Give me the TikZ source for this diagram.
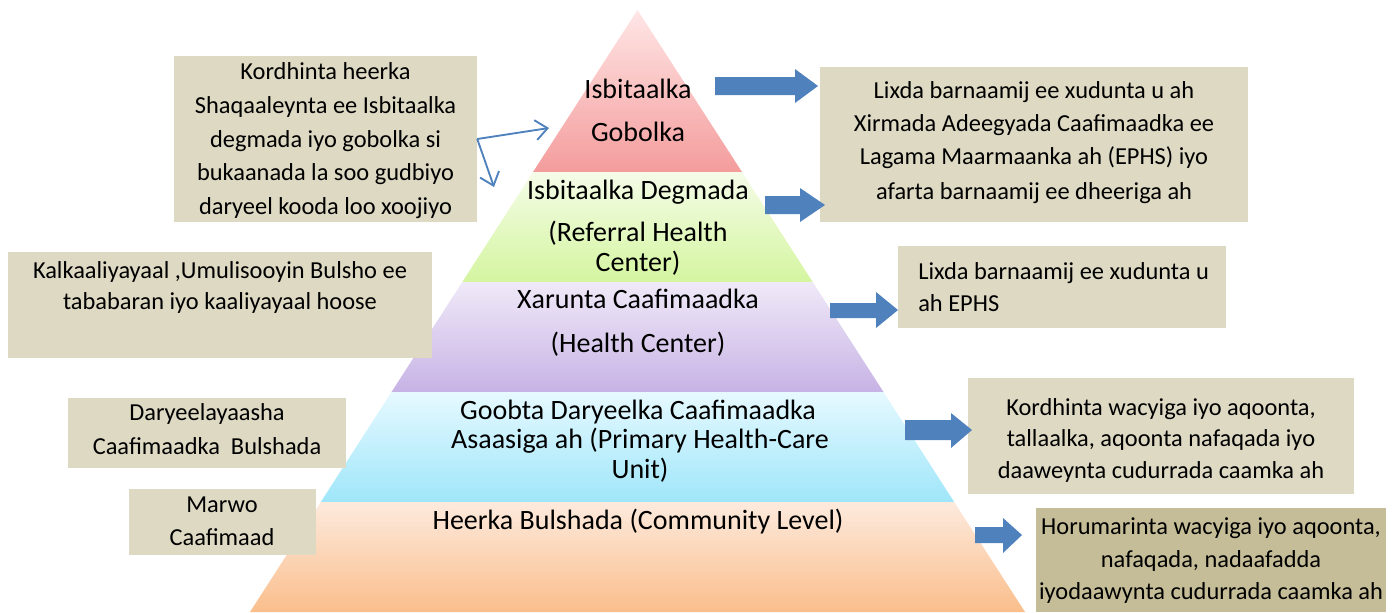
\documentclass[tikz,border=0pt]{standalone}
\usepackage{fontspec}
\setmainfont{Carlito}
\usetikzlibrary{arrows.meta,fit}
\definecolor{boxtan}{HTML}{DDD9C3}
\definecolor{boxdark}{HTML}{C4BD97}
\definecolor{arrowblue}{HTML}{4F81BD}
\definecolor{pinkT}{HTML}{FFE6E6}\definecolor{pinkB}{HTML}{F49C9C}
\definecolor{greenT}{HTML}{F5FCE8}\definecolor{greenB}{HTML}{D4F5A0}
\definecolor{purpT}{HTML}{F0E9F8}\definecolor{purpB}{HTML}{C7B3E5}
\definecolor{blueT}{HTML}{E6F9FF}\definecolor{blueB}{HTML}{9FE6FA}
\definecolor{oranT}{HTML}{FDEADD}\definecolor{oranB}{HTML}{FABE8C}
\tikzset{
  box/.style={fill=boxtan, inner sep=0pt, draw=none},
  stxt/.style={font=\fontsize{18.3}{22}\selectfont, inner sep=0pt, text height=0.644em, text depth=0pt, yshift=-2.5pt},
  ptxt/.style={font=\fontsize{21}{25}\selectfont, inner sep=0pt, text height=0.644em, text depth=0pt, yshift=-3pt},
  blockarrow/.style={fill=arrowblue, draw=none},
  thinarrow/.style={draw=arrowblue, line width=1.4pt, -{Straight Barb[length=9pt,width=15pt]}}
}
\begin{document}
\begin{tikzpicture}[x=0.75pt,y=-0.75pt]
\useasboundingbox (0,0) rectangle (1394,612);
% pyramid layers
\shade[top color=pinkT, bottom color=pinkB] (637.5,10) -- (742,172) -- (533,172) -- cycle;
\shade[top color=greenT, bottom color=greenB] (533,172) -- (742,172) -- (812.7,282) -- (462.3,282) -- cycle;
\shade[top color=purpT, bottom color=purpB] (462.3,282) -- (812.7,282) -- (883.5,392) -- (391.5,392) -- cycle;
\shade[top color=blueT, bottom color=blueB] (391.5,392) -- (883.5,392) -- (954.2,502) -- (320.8,502) -- cycle;
\shade[top color=oranT, bottom color=oranB] (320.8,502) -- (954.2,502) -- (1025,612) -- (250,612) -- cycle;
% pyramid texts
\node[ptxt] (p1a) at (638,90) {Isbitaalka};
\node[ptxt] (p1b) at (638,133) {Gobolka};
\node[ptxt] (p2a) at (638,191) {Isbitaalka Degmada};
\node[ptxt] (p2b) at (638,233) {(Referral Health};
\node[ptxt] (p2c) at (638,263) {Center)};
\node[ptxt] (p3a) at (638,300) {Xarunta Caafimaadka};
\node[ptxt] (p3b) at (638,344) {(Health Center)};
\node[ptxt] (p4a) at (638,411) {Goobta Daryeelka Caafimaadka};
\node[ptxt] (p4b) at (640,440) {Asaasiga ah (Primary Health-Care};
\node[ptxt] (p4c) at (640,470) {Unit)};
\node[ptxt] (p5a) at (638,521) {Heerka Bulshada (Community Level)};
% side boxes
\node[box, fit={(174,56) (477,222)}] (b1) {};
\node[box, fit={(820,67) (1248,222)}] (r1) {};
\node[box, fit={(8,252) (432,358)}] (b2) {};
\node[box, fit={(898,246) (1226,328)}] (r2) {};
\node[box, fit={(68,398) (346,468)}] (b3) {};
\node[box, fit={(968,378) (1354,494)}] (r3) {};
\node[box, fit={(129,489) (316,555)}] (b4) {};
\node[box, fill=boxdark, fit={(1036,508) (1386,612)}] (r4) {};
% box texts
\node[stxt] (b1a) at (325.5,72) {Kordhinta heerka};
\node[stxt] (b1b) at (325.5,106) {Shaqaaleynta ee Isbitaalka};
\node[stxt] (b1c) at (325.5,139.5) {degmada iyo gobolka si};
\node[stxt] (b1d) at (325.5,173) {bukaanada la soo gudbiyo};
\node[stxt] (b1e) at (325.5,207) {daryeel kooda loo xoojiyo};
\node[stxt] (r1a) at (1034,91) {Lixda barnaamij ee xudunta u ah};
\node[stxt] (r1b) at (1034,124) {Xirmada Adeegyada Caafimaadka ee};
\node[stxt] (r1c) at (1034,157) {Lagama Maarmaanka ah (EPHS) iyo};
\node[stxt] (r1d) at (1034,192) {afarta barnaamij ee dheeriga ah};
\node[stxt] (b2a) at (220,271) {Kalkaaliyayaal ,Umulisooyin Bulsho ee};
\node[stxt] (b2b) at (220,302) {tababaran iyo kaaliyayaal hoose};
\node[stxt, anchor=west] (r2a) at (918,272) {Lixda barnaamij ee xudunta u};
\node[stxt, anchor=west] (r2b) at (918,304) {ah EPHS};
\node[stxt] (b3a) at (207,413) {Daryeelayaasha};
\node[stxt] (b3b) at (207,447) {Caafimaadka\ \ Bulshada};
\node[stxt] (r3a) at (1161,408) {Kordhinta wacyiga iyo aqoonta,};
\node[stxt] (r3b) at (1161,439) {tallaalka, aqoonta nafaqada iyo};
\node[stxt] (r3c) at (1161,471) {daaweynta cudurrada caamka ah};
\node[stxt] (b4a) at (222,505) {Marwo};
\node[stxt] (b4b) at (222,538) {Caafimaad};
\node[stxt] (r4a) at (1211,527) {Horumarinta wacyiga iyo aqoonta,};
\node[stxt] (r4b) at (1211,560) {nafaqada, nadaafadda};
\node[stxt] (r4c) at (1211,592) {iyodaawynta cudurrada caamka ah};
% block arrows
\fill[blockarrow] (715,77) -- (795,77) -- (795,69) -- (818,86) -- (795,103) -- (795,95) -- (715,95) -- cycle;
\fill[blockarrow] (765,196) -- (800,196) -- (800,188) -- (825,205) -- (800,222) -- (800,214) -- (765,214) -- cycle;
\fill[blockarrow] (830,303) -- (876,303) -- (876,292) -- (898,310) -- (876,328) -- (876,318) -- (830,318) -- cycle;
\fill[blockarrow] (905,420) -- (951,420) -- (951,413) -- (972,430) -- (951,448) -- (951,440) -- (905,440) -- cycle;
\fill[blockarrow] (975,527) -- (1003,527) -- (1003,518) -- (1022,535) -- (1003,553) -- (1003,543) -- (975,543) -- cycle;
% thin arrows
\coordinate (t1) at (549,128);
\coordinate (t2) at (494,187);
\draw[thinarrow] (b1.east) -- (t1);
\draw[thinarrow] (b1.east) -- (t2);
\end{tikzpicture}
\end{document}
